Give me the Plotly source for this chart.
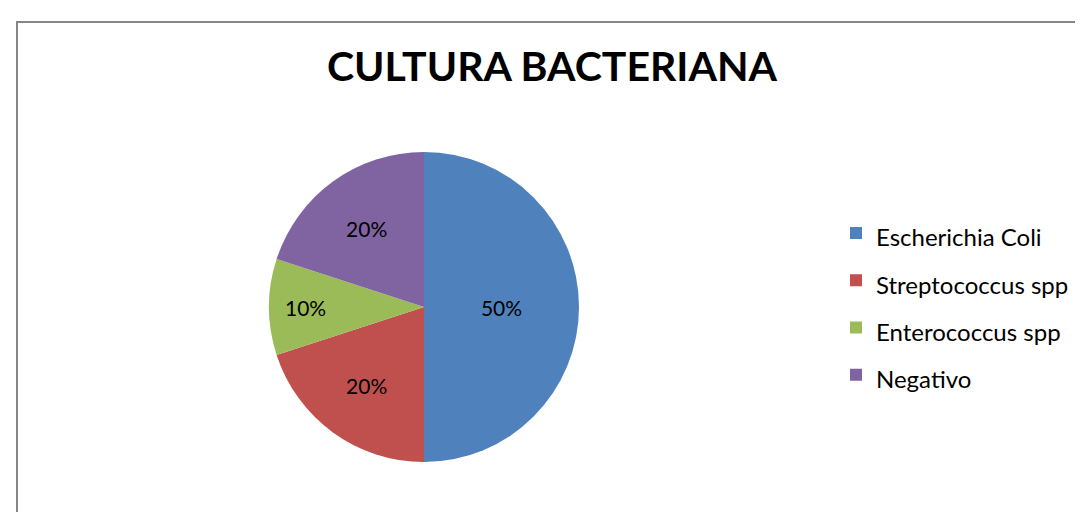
import plotly.graph_objects as go

categories = ["Escherichia Coli", "Streptococcus spp", "Enterococcus spp", "Negativo"]
values = [50, 20, 10, 20]
colors = ["#4F81BD", "#C0504D", "#9BBB59", "#8064A2"]
title_text = "CULTURA BACTERIANA"

W, H = 1083, 512
FONT = "Lato, 'Open Sans', sans-serif"

legend_labels = ["<span style='font-size:24px'>" + c + "</span>" for c in categories]

fig = go.Figure(
    go.Pie(
        labels=legend_labels,
        values=values,
        sort=False,
        direction="clockwise",
        rotation=0,
        marker=dict(colors=colors, line=dict(color="white", width=0)),
        textinfo="percent",
        texttemplate="%{percent:.0%}",
        textposition="inside",
        insidetextorientation="horizontal",
        textfont=dict(family=FONT, size=21, color="black"),
        domain=dict(x=[261 / W, 571 / W], y=[1 - 454 / H, 1 - 144 / H]),
        hoverinfo="percent",
    )
)

fig.update_layout(
    width=W,
    height=H,
    margin=dict(l=0, r=0, t=0, b=0),
    paper_bgcolor="white",
    plot_bgcolor="white",
    title=dict(
        text="<b>" + title_text + "</b>",
        x=544 / W,
        xanchor="center",
        y=1 - 59 / H,
        yanchor="middle",
        font=dict(family=FONT, size=41, color="black"),
    ),
    legend=dict(
        x=828 / W,
        xanchor="left",
        y=1 - 296 / H,
        yanchor="middle",
        font=dict(family=FONT, size=34, color="black"),
        itemwidth=30,
    ),
    showlegend=True,
    shapes=[
        dict(
            type="rect",
            xref="paper",
            yref="paper",
            x0=9 / W,
            x1=1.05,
            y0=-0.05,
            y1=1 - 14 / H,
            line=dict(color="#868686", width=2),
            fillcolor="rgba(0,0,0,0)",
        )
    ],
)

fig.write_html("out.html")
